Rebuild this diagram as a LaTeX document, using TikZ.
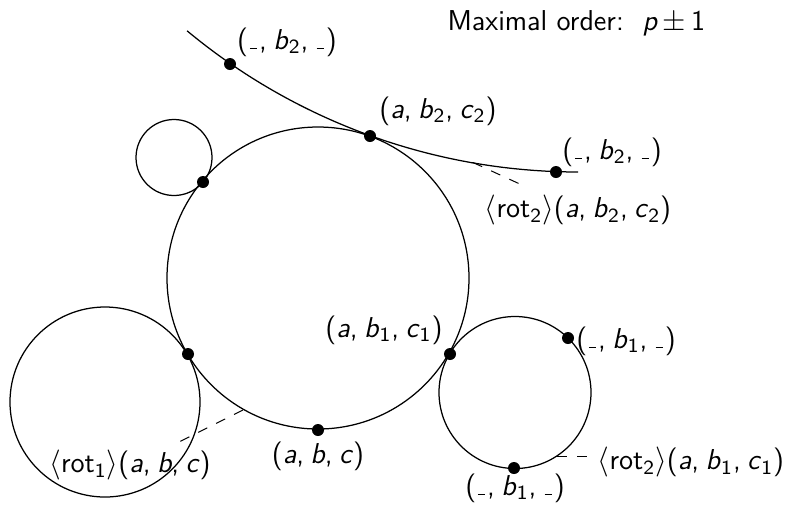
\documentclass[tikz,border=0pt]{standalone}
\usepackage{graphicx}
\newcommand{\vi}[1]{\textit{#1}}
\newcommand{\blk}{\kern0.06em\rule[-0.01em]{0.26em}{0.055em}\kern0.06em}
\newcommand{\sbs}[1]{\textsubscript{#1}}
\newcommand{\tri}[3]{(#1,\kern0.22em#2,\kern0.22em#3)}
\begin{document}
\begin{tikzpicture}[x=0.4pt,y=-0.4pt,
  curve/.style={line width=0.5pt},
  dot/.style={circle,fill=black,inner sep=0pt,minimum size=4.8pt},
  lbl/.style={inner sep=0pt,font=\sffamily\fontsize{11.5}{13}\selectfont},
  dash line/.style={dashed,line width=0.4pt,dash pattern=on 4pt off 4pt}]
\useasboundingbox (0,0) rectangle (785,508);
% circles
\draw[curve] (318,278) circle[radius=151];
\draw[curve] (174,157.5) circle[radius=38];
\draw[curve] (105,402) circle[radius=95];
\draw[curve] (515,392.5) circle[radius=76];
% large tangent arc
\draw[curve] plot[domain=90:129.7,samples=80] ({578+612*cos(\x)},{-440+612*sin(\x)});
% points
\node[dot] (tb) at (230,64) {};
\node[dot] (abc2) at (370,136) {};
\node[dot] (rb) at (556,172) {};
\node[dot] (sm) at (203,182) {};
\node[dot] (lt) at (188,354) {};
\node[dot] (abc1) at (450,354) {};
\node[dot] (abc) at (318,430) {};
\node[dot] (r1) at (568,338) {};
\node[dot] (r2) at (514,468) {};
% dashed leader ends
\coordinate (d1a) at (473,162.5);
\coordinate (d1b) at (522,185);
\coordinate (d2a) at (243,410);
\coordinate (d2b) at (177,443);
\coordinate (d3a) at (557,456);
\coordinate (d3b) at (588,456);
\draw[dash line] (d1a) -- (d1b);
\draw[dash line] (d2a) -- (d2b);
\draw[dash line] (d3a) -- (d3b);
% labels
\node[lbl,anchor=base west] (title) at (447,30) {Maximal order:\ \ \vi{p}\,$\pm$\,1};
\node[lbl] (ltb) at (287,42) {\tri{\blk}{\vi{b}\sbs{2}}{\blk}};
\node[lbl] (labc2) at (438,111) {\tri{\vi{a}}{\vi{b}\sbs{2}}{\vi{c}\sbs{2}}};
\node[lbl] (lrb) at (612,152) {\tri{\blk}{\vi{b}\sbs{2}}{\blk}};
\node[lbl] (lrot2a) at (578,210) {$\langle$rot\sbs{2}$\rangle$\tri{\vi{a}}{\vi{b}\sbs{2}}{\vi{c}\sbs{2}}};
\node[lbl] (labc1) at (384,330) {\tri{\vi{a}}{\vi{b}\sbs{1}}{\vi{c}\sbs{1}}};
\node[lbl] (lr1) at (626,341) {\tri{\blk}{\vi{b}\sbs{1}}{\blk}};
\node[lbl] (labc) at (318,456) {\tri{\vi{a}}{\vi{b}}{\vi{c}}};
\node[lbl] (lrot1) at (130,465) {$\langle$rot\sbs{1}$\rangle$\tri{\vi{a}}{\vi{b}}{\vi{c}}};
\node[lbl] (lrot2b) at (691,462) {$\langle$rot\sbs{2}$\rangle$\tri{\vi{a}}{\vi{b}\sbs{1}}{\vi{c}\sbs{1}}};
\node[lbl] (lr2) at (515,488) {\tri{\blk}{\vi{b}\sbs{1}}{\blk}};
\end{tikzpicture}
\end{document}
